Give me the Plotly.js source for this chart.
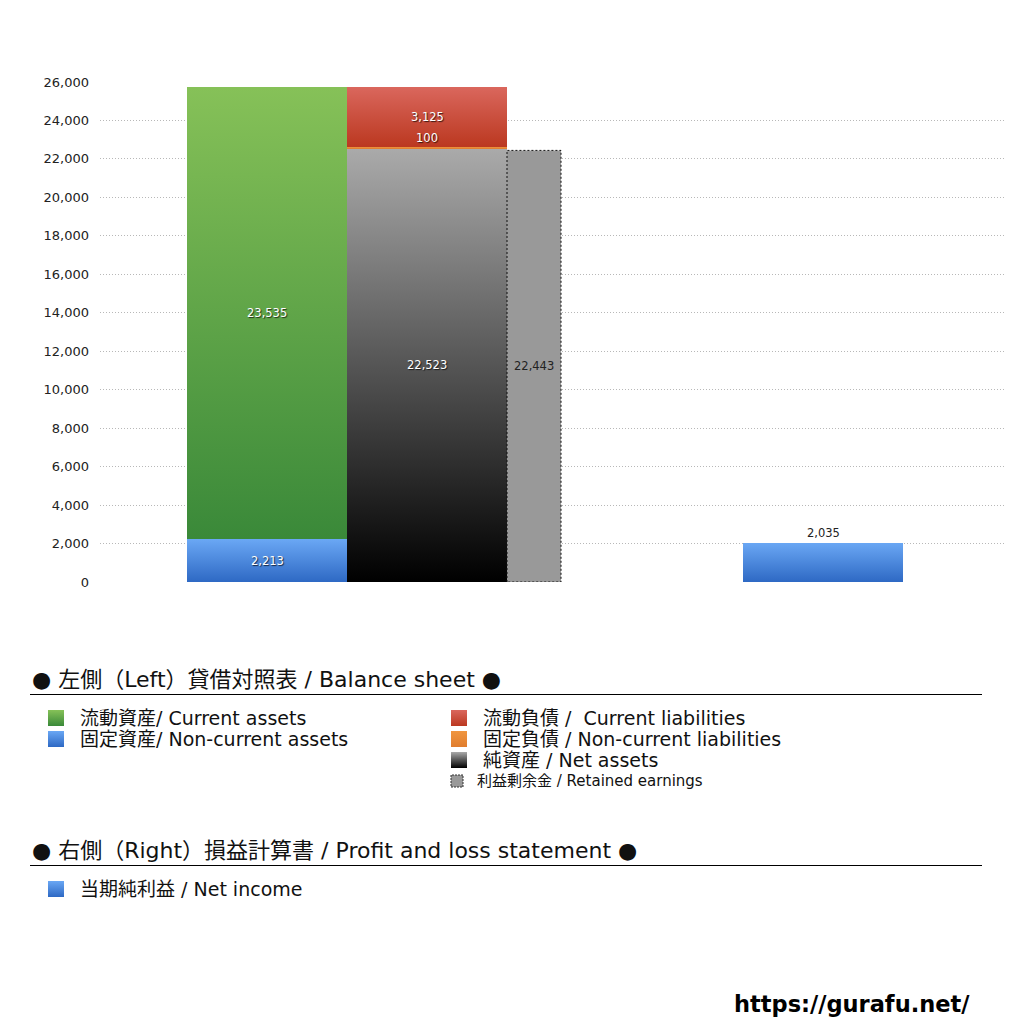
<!DOCTYPE html>
<html>
<head>
<meta charset="utf-8">
<script src="https://cdn.plot.ly/plotly-3.0.1.min.js"></script>
<style>
body{margin:0;background:#fff}
#chart{width:1024px;height:1024px}
</style>
</head>
<body>
<svg width="0" height="0" style="position:absolute">
  <defs>
    <linearGradient id="gGreen" x1="0" y1="0" x2="0" y2="1"><stop offset="0" stop-color="#86c158"/><stop offset="1" stop-color="#3a8939"/></linearGradient>
    <linearGradient id="gBlue" x1="0" y1="0" x2="0" y2="1"><stop offset="0" stop-color="#6aa7f4"/><stop offset="1" stop-color="#2e69c4"/></linearGradient>
    <linearGradient id="gRed" x1="0" y1="0" x2="0" y2="1"><stop offset="0" stop-color="#da675d"/><stop offset="1" stop-color="#bb3820"/></linearGradient>
    <linearGradient id="gOrange" x1="0" y1="0" x2="0" y2="1"><stop offset="0" stop-color="#f0963f"/><stop offset="1" stop-color="#e07d2e"/></linearGradient>
    <linearGradient id="gGray" x1="0" y1="0" x2="0" y2="1"><stop offset="0" stop-color="#aaaaaa"/><stop offset="1" stop-color="#000000"/></linearGradient>
  </defs>
</svg>
<div id="chart"></div>
<script>
// ---- data ----
const assetNames = ['固定資産/ Non-current assets', '流動資産/ Current assets'];
const assetValues = [2213, 23535];
const liabNames = ['純資産 / Net assets', '固定負債 / Non-current liabilities', '流動負債 /  Current liabilities'];
const liabValues = [22523, 100, 3125];
const retainedName = '利益剰余金 / Retained earnings';
const retainedValues = [22443];
const incomeName = '当期純利益 / Net income';
const incomeValues = [2035];
const yTickVals = [0, 2000, 4000, 6000, 8000, 10000, 12000, 14000, 16000, 18000, 20000, 22000, 24000, 26000];
const yTickText = ['0', '2,000', '4,000', '6,000', '8,000', '10,000', '12,000', '14,000', '16,000', '18,000', '20,000', '22,000', '24,000', '26,000'];

// key colours -> gradient ids (swapped in after drawing)
const assetColors = ['#2e69c5', '#3a8a39'];
const liabColors = ['#101010', '#e07d2f', '#bb3821'];
const gradMap = {
  '#2e69c5': 'gBlue', '#3a8a39': 'gGreen', '#101010': 'gGray',
  '#e07d2f': 'gOrange', '#bb3821': 'gRed'
};

const FONT = '"DejaVu Sans", "Noto Sans CJK JP", sans-serif';
const col = { assets: 1.67, liab: 3.27, retained: 4.34, income: 7.23 };
const wide = 1.6, narrow = 0.54;

function fmt(v){ return v.toLocaleString('en-US'); }
function py(p){ return 1 - p / 1024; }
function px(p){ return p / 1024; }

var traces = [];
var annotations = [];
var whiteFont = { family: FONT, size: 11.5, color: '#ffffff', shadow: '1px 1px 1px rgba(0,0,0,0.7)' };
var darkFont = { family: FONT, size: 11.5, color: '#222222' };

// assets column
var base = 0;
assetValues.forEach(function(v, i){
  traces.push({ type: 'bar', name: assetNames[i], x: [col.assets], y: [v], base: [base], width: [wide],
    marker: { color: assetColors[i], line: { width: 0 } }, showlegend: false });
  annotations.push({ x: col.assets, y: base + v / 2, text: fmt(v), showarrow: false, font: whiteFont });
  base += v;
});

// liabilities + net assets column
base = 0;
liabValues.forEach(function(v, i){
  traces.push({ type: 'bar', name: liabNames[i], x: [col.liab], y: [v], base: [base], width: [wide],
    marker: { color: liabColors[i], line: { width: 0 } }, showlegend: false });
  if (v < 1000) {
    annotations.push({ x: col.liab, y: base + v, yanchor: 'bottom', text: fmt(v), showarrow: false, font: whiteFont });
  } else {
    annotations.push({ x: col.liab, y: base + v / 2, text: fmt(v), showarrow: false, font: whiteFont });
  }
  base += v;
});

// retained earnings
traces.push({ type: 'bar', name: retainedName, x: [col.retained], y: retainedValues, base: [0], width: [narrow],
  marker: { color: '#999999', line: { width: 1, color: '#111111' } }, showlegend: false });
annotations.push({ x: col.retained, y: retainedValues[0] / 2, text: fmt(retainedValues[0]), showarrow: false, font: darkFont });

// net income (right side)
traces.push({ type: 'bar', name: incomeName, x: [col.income], y: incomeValues, base: [0], width: [wide],
  marker: { color: '#2e69c5', line: { width: 0 } }, showlegend: false });
annotations.push({ x: col.income, y: incomeValues[0], yanchor: 'bottom', yshift: 1, text: fmt(incomeValues[0]), showarrow: false, font: darkFont });

// ---- custom legend ----
var shapes = [];
function heading(text, yc, yline){
  annotations.push({ xref: 'paper', yref: 'paper', x: px(31), y: py(yc), xanchor: 'left', yanchor: 'middle', borderpad: 0,
    text: text, showarrow: false, font: { family: FONT, size: 22, color: '#111111' } });
  shapes.push({ type: 'line', xref: 'paper', yref: 'paper', x0: px(30), x1: px(982), y0: py(yline), y1: py(yline),
    line: { color: '#000000', width: 1.2 } });
}
function item(text, color, xs, yc, size, dotted){
  var s = size ? 12 : 16;
  shapes.push({ type: 'rect', xref: 'paper', yref: 'paper', x0: px(xs), x1: px(xs + s), y0: py(yc + s / 2), y1: py(yc - s / 2),
    fillcolor: color, line: dotted ? { color: '#333333', width: 1, dash: '2px,1px' } : { width: 0 } });
  annotations.push({ xref: 'paper', yref: 'paper', x: px(xs + (size ? 25 : 31)), y: py(yc), xanchor: 'left', yanchor: 'middle', borderpad: 0,
    text: text, showarrow: false, font: { family: FONT, size: size || 19, color: '#111111' } });
}

heading('● 左側（Left）貸借対照表 / Balance sheet ●', 679, 694.5);
item(assetNames[1], assetColors[1], 48, 718);
item(assetNames[0], assetColors[0], 48, 739);
item(liabNames[2], liabColors[2], 451, 718);
item(liabNames[1], liabColors[1], 451, 739);
item(liabNames[0], liabColors[0], 451, 760);
item(retainedName, '#999999', 451, 781, 15, true);

heading('● 右側（Right）損益計算書 / Profit and loss statement ●', 850, 865.5);
item(incomeName, assetColors[0], 48, 889);

annotations.push({ xref: 'paper', yref: 'paper', x: px(972), y: py(1004), xanchor: 'right', yanchor: 'middle',
  text: '<b>https://gurafu.net/</b>', showarrow: false, font: { family: FONT, size: 22.5, color: '#000000' } });

var layout = {
  width: 1024, height: 1024,
  margin: { l: 0, r: 0, t: 0, b: 0 },
  paper_bgcolor: '#ffffff', plot_bgcolor: '#ffffff',
  barmode: 'overlay', bargap: 0,
  showlegend: false,
  xaxis: { domain: [100 / 1024, 1005 / 1024], range: [0, 9.05], visible: false, fixedrange: true },
  yaxis: { domain: [442 / 1024, 942 / 1024], range: [0, 26000], tickvals: yTickVals, ticktext: yTickText,
    showgrid: true, gridcolor: '#b8b8b8', griddash: 'dot', gridwidth: 1, zeroline: false, showline: false,
    ticks: '', ticklabelstandoff: 10, tickfont: { family: FONT, size: 13, color: '#222222' }, fixedrange: true },
  annotations: annotations,
  shapes: shapes
};

Plotly.newPlot('chart', traces, layout, { staticPlot: true, displayModeBar: false }).then(function(){
  var probe = document.createElement('div');
  var norm = {};
  Object.keys(gradMap).forEach(function(k){ probe.style.fill = k; norm[probe.style.fill] = gradMap[k]; });
  document.querySelectorAll('#chart svg path').forEach(function(p){
    var g = norm[p.style.fill];
    if (g) p.style.fill = 'url(#' + g + ')';
  });
  // fine dotted grid like the original
  document.querySelectorAll('#chart .ygrid, #chart .gridlayer path').forEach(function(p){
    p.style.strokeDasharray = '1px,2px';
  });
  // dotted outline on the retained earnings bar
  var groups = document.querySelectorAll('#chart .barlayer .trace');
  var rg = groups[assetValues.length + liabValues.length];
  if (rg) rg.querySelectorAll('path').forEach(function(p){ p.style.strokeDasharray = '2,2'; });
});
</script>
</body>
</html>
